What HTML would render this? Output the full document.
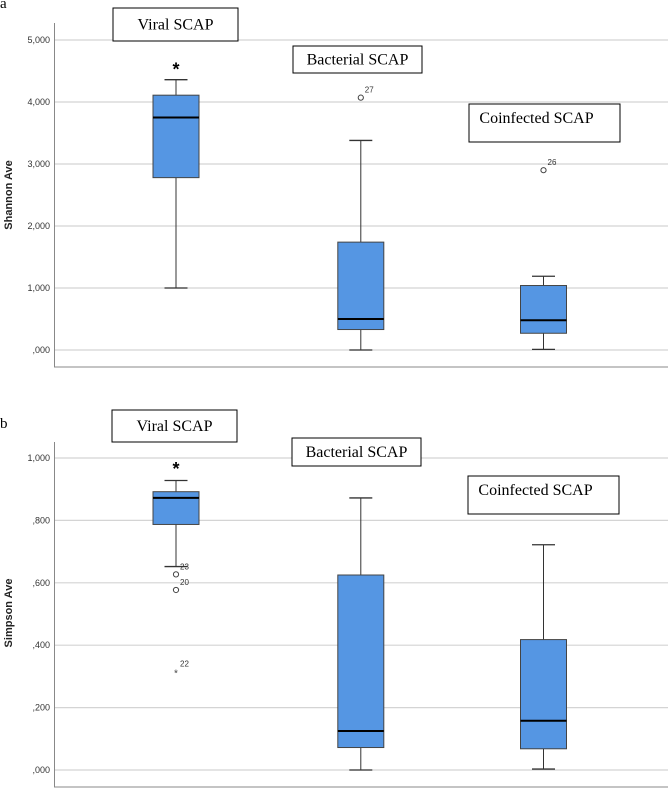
<!DOCTYPE html>
<html><head><meta charset="utf-8"><style>
body{margin:0;background:#fff;width:668px;height:789px;overflow:hidden}
svg{display:block}
.tick{font:9px "Liberation Sans",sans-serif;fill:#333;text-anchor:end}
.yl{font:bold 11px "Liberation Sans",sans-serif;fill:#222}
.lab{font:16px "Liberation Serif",serif;fill:#000;text-anchor:middle}
.onum{font:8px "Liberation Sans",sans-serif;fill:#333}
</style></head><body>
<svg id="chart" width="668" height="789" xmlns="http://www.w3.org/2000/svg"></svg>
<script>
const groups = ["Viral SCAP","Bacterial SCAP","Coinfected SCAP"];
const shannonQ1 = [2780, 330, 270];
const shannonMed = [3750, 500, 480];
const shannonQ3 = [4110, 1740, 1040];
const shannonLo = [1000, 0, 10];
const shannonHi = [4360, 3380, 1190];
const shannonOutliers = [[], [[4070,"27"]], [[2900,"26"]]];
const shannonTicks = [0,1000,2000,3000,4000,5000];
const shannonTickLabels = [",000","1,000","2,000","3,000","4,000","5,000"];
const simpsonQ1 = [0.787, 0.072, 0.068];
const simpsonMed = [0.872, 0.125, 0.158];
const simpsonQ3 = [0.892, 0.625, 0.418];
const simpsonLo = [0.652, 0, 0.003];
const simpsonHi = [0.928, 0.872, 0.722];
const simpsonOutliers = [[[0.627,"23"],[0.577,"20"]], [], []];
const simpsonExtremes = [[[0.315,"22"]], [], []];
const simpsonTicks = [0,0.2,0.4,0.6,0.8,1.0];
const simpsonTickLabels = [",000",",200",",400",",600",",800","1,000"];
const shannonSig = [4570];
const simpsonSig = [0.975];

const NS="http://www.w3.org/2000/svg";
const svg=document.getElementById('chart');
function mk(tag,attrs,parent,text){const e=document.createElementNS(NS,tag);for(const k in attrs)e.setAttribute(k,attrs[k]);if(text!==undefined)e.textContent=text;(parent||svg).appendChild(e);return e;}

const centers=[176,360.8,543.5];
const halfW=23, capW=11.5;

function panel(cfg){
  const g=mk('g',{});
  
  
  const y=v=>cfg.y0-(v-cfg.vmin)*cfg.pxPer;
  const t=mk('text',{x:0,y:cfg.letterY,style:'font:15px "Liberation Serif",serif'},g,cfg.letter);
  
  
  cfg.ticks.forEach((v,i)=>{
    const l=mk('line',{x1:54,x2:668,y1:y(v),y2:y(v),stroke:'#d4d4d4','stroke-width':1.2},g);
    
    
    const tx=mk('text',{x:50,y:y(v)+3,class:'tick'},g,cfg.tickLabels[i]);
    
    
  });
  const ax=mk('path',{d:`M54.5 ${cfg.axTop} V${cfg.axBot} H668`,fill:'none',stroke:'#888','stroke-width':1},g);
  
  
  const yl=mk('text',{x:0,y:0,class:'yl',transform:`translate(12 ${cfg.ylY}) rotate(-90)`,'text-anchor':'middle'},g,cfg.ylabel);
  
  
  groups.forEach((name,i)=>{
    const c=centers[i];
    const bg=mk('g',{},g);
    
    
    mk('line',{x1:c,x2:c,y1:y(cfg.hi[i]),y2:y(cfg.q3[i]),stroke:'#333'},bg);
    mk('line',{x1:c,x2:c,y1:y(cfg.q1[i]),y2:y(cfg.lo[i]),stroke:'#333'},bg);
    mk('line',{x1:c-capW,x2:c+capW,y1:y(cfg.hi[i]),y2:y(cfg.hi[i]),stroke:'#333','stroke-width':1.3},bg);
    mk('line',{x1:c-capW,x2:c+capW,y1:y(cfg.lo[i]),y2:y(cfg.lo[i]),stroke:'#333','stroke-width':1.3},bg);
    mk('rect',{x:c-halfW,y:y(cfg.q3[i]),width:2*halfW,height:y(cfg.q1[i])-y(cfg.q3[i]),fill:'#5596e3',stroke:'#444','stroke-width':1},bg);
    mk('line',{x1:c-halfW,x2:c+halfW,y1:y(cfg.med[i]),y2:y(cfg.med[i]),stroke:'#000','stroke-width':2},bg);
    cfg.out[i].forEach(o=>{
      const ci=mk('circle',{cx:c,cy:y(o[0]),r:2.6,fill:'none',stroke:'#444'},g);
      
      
      mk('text',{x:c+4,y:y(o[0])-5,class:'onum'},g,o[1]);
    });
    (cfg.ext[i]||[]).forEach(o=>{
      const s=mk('text',{x:c,y:y(o[0])+5,'text-anchor':'middle',style:'font:10px "Liberation Sans",sans-serif',fill:'#444'},g,'*');
      
      
      mk('text',{x:c+4,y:y(o[0])-5,class:'onum'},g,o[1]);
    });
  });
  const st=mk('text',{x:centers[0],y:y(cfg.sig[0])+9,'text-anchor':'middle',style:'font:bold 18px "Liberation Sans",sans-serif'},g,'*');
  
  
  cfg.labels.forEach((b,i)=>{
    const lg=mk('g',{},g);
    
    
    mk('rect',{x:b[0],y:b[1],width:b[2]-b[0],height:b[3]-b[1],fill:'#fff',stroke:'#000','stroke-width':1},lg);
    mk('text',{x:(b[0]+b[2])/2-(i==2?8:0),y:(b[1]+b[3])/2+(i==2?0:5),class:'lab'},lg,groups[i]);
  });
}
panel({name:'shannon-panel',letter:'a',letterY:8,vmin:0,y0:350,pxPer:0.062,ticks:shannonTicks,tickLabels:shannonTickLabels,
  axTop:23,axBot:367,ylY:195,ylabel:'Shannon Ave',q1:shannonQ1,med:shannonMed,q3:shannonQ3,lo:shannonLo,hi:shannonHi,
  out:shannonOutliers,ext:[[],[],[]],sig:shannonSig,
  labels:[[113,8,238,41],[293,46,422,73],[469,104,620,142]]});
panel({name:'simpson-panel',letter:'b',letterY:428,vmin:0,y0:770,pxPer:312,ticks:simpsonTicks,tickLabels:simpsonTickLabels,
  axTop:442,axBot:787,ylY:613,ylabel:'Simpson Ave',q1:simpsonQ1,med:simpsonMed,q3:simpsonQ3,lo:simpsonLo,hi:simpsonHi,
  out:simpsonOutliers,ext:simpsonExtremes,sig:simpsonSig,
  labels:[[112,410,237,442],[292,438,421,466],[468,476,619,514]]});
</script>
</body></html>
